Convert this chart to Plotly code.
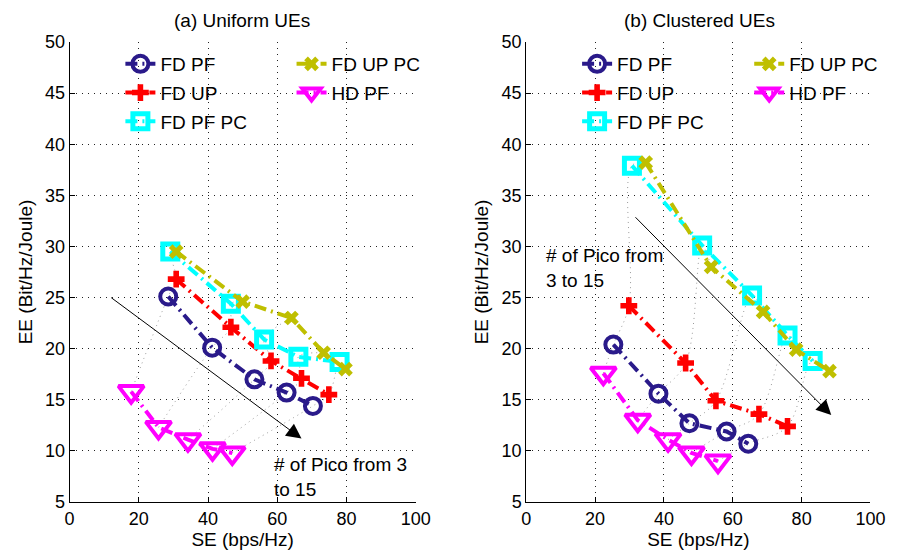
import plotly.graph_objects as go

# ---------------- data ----------------
series_names = ["FD PF", "FD UP", "FD PF PC", "FD UP PC", "HD PF"]

# (a) Uniform UEs
a_fdpf_se = [28.5, 41.2, 53.4, 62.7, 70.3]
a_fdpf_ee = [25.1, 20.1, 17.0, 15.7, 14.4]
a_fdup_se = [30.8, 46.6, 58.2, 67.0, 74.9]
a_fdup_ee = [26.8, 22.1, 18.8, 17.1, 15.5]
a_fdpfpc_se = [29.1, 46.6, 56.2, 66.1, 78.0]
a_fdpfpc_ee = [29.5, 24.4, 20.9, 19.2, 18.7]
a_fduppc_se = [30.8, 50.0, 64.1, 73.4, 79.7]
a_fduppc_ee = [29.5, 24.6, 23.0, 19.6, 18.0]
a_hdpf_se = [17.8, 25.7, 34.2, 41.3, 47.0]
a_hdpf_ee = [15.8, 12.3, 11.1, 10.2, 9.8]

# (b) Clustered UEs
b_fdpf_se = [25.3, 38.4, 47.4, 58.2, 64.5]
b_fdpf_ee = [20.4, 15.6, 12.7, 11.9, 10.7]
b_fdup_se = [29.8, 46.3, 55.1, 67.6, 75.9]
b_fdup_ee = [24.2, 18.6, 14.9, 13.6, 12.4]
b_fdpfpc_se = [30.7, 51.1, 65.6, 75.9, 83.2]
b_fdpfpc_ee = [37.9, 30.1, 25.2, 21.3, 18.8]
b_fduppc_se = [34.7, 53.7, 68.8, 78.4, 88.1]
b_fduppc_ee = [38.2, 28.0, 23.6, 19.9, 17.8]
b_hdpf_se = [22.4, 32.4, 41.2, 48.0, 55.7]
b_hdpf_ee = [17.6, 13.0, 11.1, 9.8, 9.0]

x_ticks = [0, 20, 40, 60, 80, 100]
y_ticks = [5, 10, 15, 20, 25, 30, 35, 40, 45, 50]

# ---------------- styles ----------------
FONT = "Liberation Sans, Arial, sans-serif"
DASHDOT = "12px,5px,2px,5px"
styles = {
    "FD PF": dict(color="#2a1a8a", symbol="circle-open", size=16, mlw=4),
    "FD UP": dict(color="#ff0000", symbol="cross", size=14, mlw=0),
    "FD PF PC": dict(color="#00ffff", symbol="square-open", size=15, mlw=5),
    "FD UP PC": dict(color="#bfbf00", symbol="x", size=13, mlw=0),
    "HD PF": dict(color="#ff00ff", symbol="triangle-down-open", size=22, mlw=4),
}

W, H = 907, 553
PT, PB = 42, 502          # plot top/bottom in pixels
PH = PB - PT


def px(x):
    return x / W


def py(y):
    return (PB - y) / PH


fig = go.Figure()

panels = [
    ("x", "y", ["legend", "legend2"],
     {"FD PF": (a_fdpf_se, a_fdpf_ee), "FD UP": (a_fdup_se, a_fdup_ee),
      "FD PF PC": (a_fdpfpc_se, a_fdpfpc_ee), "FD UP PC": (a_fduppc_se, a_fduppc_ee),
      "HD PF": (a_hdpf_se, a_hdpf_ee)}),
    ("x2", "y2", ["legend3", "legend4"],
     {"FD PF": (b_fdpf_se, b_fdpf_ee), "FD UP": (b_fdup_se, b_fdup_ee),
      "FD PF PC": (b_fdpfpc_se, b_fdpfpc_ee), "FD UP PC": (b_fduppc_se, b_fduppc_ee),
      "HD PF": (b_hdpf_se, b_hdpf_ee)}),
]

for pi, (xa, ya, legs, data) in enumerate(panels):
    order = ["HD PF", "FD PF", "FD UP", "FD PF PC", "FD UP PC"]
    for i in range(5):
        fig.add_trace(go.Scatter(
            x=[data[n][0][i] for n in order], y=[data[n][1][i] for n in order],
            mode="lines", line=dict(color="rgba(0,0,0,0.4)", width=1, dash="1px,4px", shape="spline"),
            xaxis=xa, yaxis=ya, showlegend=False, hoverinfo="skip"))
    for n in series_names:
        s = styles[n]
        leg = legs[0] if n in ("FD PF", "FD UP", "FD PF PC") else legs[1]
        fig.add_trace(go.Scatter(
            x=data[n][0], y=data[n][1], name=n, mode="lines+markers",
            legendgroup=f"{n}-{pi}",
            line=dict(color=s["color"], width=4, dash=DASHDOT),
            marker=dict(symbol=s["symbol"], size=s["size"], color=s["color"],
                        line=dict(color=s["color"], width=s["mlw"])),
            xaxis=xa, yaxis=ya, legend=leg))

axis_common = dict(
    showline=True, linecolor="black", linewidth=1, mirror=False,
    ticks="inside", ticklen=5, tickcolor="black",
    showgrid=True, gridcolor="#222222", griddash="1px,5px", gridwidth=1,
    zeroline=False, tickfont=dict(family=FONT, size=18, color="black"),
)

leg_common = dict(bgcolor="rgba(0,0,0,0)", borderwidth=0,
                  font=dict(family=FONT, size=19, color="black"),
                  xanchor="left", yanchor="top", tracegroupgap=1, itemwidth=30)

xt = dict(text="SE (bps/Hz)", font=dict(size=19, family=FONT), standoff=2)
yt = dict(text="EE (Bit/Hz/Joule)", font=dict(size=19, family=FONT), standoff=7)

fig.update_layout(
    width=W, height=H,
    margin=dict(l=0, r=0, t=PT, b=H - PB),
    paper_bgcolor="white", plot_bgcolor="white",
    font=dict(family=FONT, color="black"),
    xaxis=dict(domain=[px(66), px(420)], range=[0, 100], tickvals=x_ticks, anchor="y",
               title=xt, **axis_common),
    yaxis=dict(domain=[0, 1], range=[5, 50], tickvals=y_ticks, anchor="x",
               title=yt, **axis_common),
    xaxis2=dict(domain=[px(533), px(885)], range=[0, 100], tickvals=x_ticks, anchor="y2",
                title=xt, **axis_common),
    yaxis2=dict(domain=[0, 1], range=[5, 50], tickvals=y_ticks, anchor="x2",
                title=yt, **axis_common),
    legend=dict(x=px(118), y=py(45), **leg_common),
    legend2=dict(x=px(293), y=py(45), **leg_common),
    legend3=dict(x=px(585), y=py(45), **leg_common),
    legend4=dict(x=px(761), y=py(45), **leg_common),
    showlegend=True,
)

annots = [
    dict(text="(a) Uniform UEs", xref="paper", yref="paper", x=px(242), y=py(21),
         showarrow=False, font=dict(size=19, family=FONT), xanchor="center", yanchor="middle"),
    dict(text="(b) Clustered UEs", xref="paper", yref="paper", x=px(710), y=py(21),
         showarrow=False, font=dict(size=19, family=FONT), xanchor="center", yanchor="middle"),
    dict(text="# of Pico from 3<br>to 15", xref="x", yref="y", x=58.4, y=9.9,
         showarrow=False, align="left", xanchor="left", yanchor="top",
         font=dict(size=19, family=FONT)),
    dict(text="# of Pico from<br>3 to 15", xref="x2", yref="y2", x=5.2, y=30.3,
         showarrow=False, align="left", xanchor="left", yanchor="top",
         font=dict(size=19, family=FONT)),
    dict(x=67.0, y=11.2, ax=11.6, ay=25.1, xref="x", yref="y", axref="x", ayref="y",
         text="", showarrow=True, arrowhead=2, arrowsize=3, arrowwidth=1, arrowcolor="black"),
    dict(x=88.6, y=13.5, ax=31.3, ay=33.0, xref="x2", yref="y2", axref="x2", ayref="y2",
         text="", showarrow=True, arrowhead=2, arrowsize=3, arrowwidth=1, arrowcolor="black"),
]
fig.update_layout(annotations=annots)

fig.write_html("out.html", config={"displayModeBar": False},
               post_script="document.body.style.margin='0px';")
